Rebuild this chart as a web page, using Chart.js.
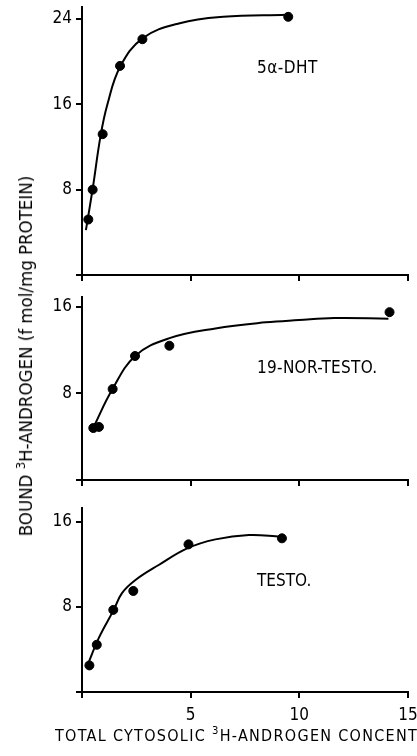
<!DOCTYPE html>
<html>
<head>
<meta charset="utf-8">
<script src="https://cdn.jsdelivr.net/npm/chart.js@4/dist/chart.umd.min.js"></script>
<style>
  html, body { margin: 0; padding: 0; background: #fff; }
  body { width: 417px; height: 756px; position: relative; overflow: hidden; }
  .panel { position: absolute; left: 0; width: 417px; }
  .txt { position: absolute; font-family: 'DejaVu Sans Condensed', 'DejaVu Sans', sans-serif; color: #000; white-space: nowrap; line-height: 16px; }
  sup { font-size: 70%; vertical-align: 7px; line-height: 0; }
</style>
</head>
<body>
<div class="panel" style="top:0;height:285px"><canvas id="c1"></canvas></div>
<div class="panel" style="top:287px;height:203px"><canvas id="c2"></canvas></div>
<div class="panel" style="top:498px;height:258px"><canvas id="c3"></canvas></div>

<div class="txt" style="left:257px;top:59px;font-size:17px;letter-spacing:0.5px">5α-DHT</div>
<div class="txt" style="left:257px;top:359px;font-size:17px;letter-spacing:0.3px">19-NOR-TESTO.</div>
<div class="txt" style="left:257px;top:572px;font-size:17px">TESTO.</div>
<div class="txt" id="ylab" style="left:26px;top:356px;font-size:18.5px;transform:translate(-50%,-50%) rotate(-90deg)">BOUND <sup>3</sup>H-ANDROGEN (f mol/mg PROTEIN)</div>
<div class="txt" style="left:55px;top:728px;font-size:16px;letter-spacing:1.3px">TOTAL CYTOSOLIC <sup>3</sup>H-ANDROGEN CONCENTRATION</div>

<script>
// values (x: total cytosolic conc., y: bound fmol/mg protein)
const xTicks = [0, 5, 10, 15];

const dhtX = [0.29, 0.49, 0.95, 1.75, 2.78, 9.49];
const dhtY = [5.2, 8.0, 13.2, 19.6, 22.1, 24.2];
const dhtCurveX = [0.18, 0.5, 0.85, 1.17, 1.75, 2.8, 4.5, 6.5, 9.4];
const dhtCurveY = [4.2, 8.2, 13.0, 16.0, 19.5, 22.2, 23.6, 24.2, 24.4];
const dhtTicks = [0, 8, 16, 24];

const norX = [0.52, 0.78, 1.41, 2.44, 4.02, 14.15];
const norY = [4.8, 4.9, 8.4, 11.45, 12.4, 15.5];
const norCurveX = [0.54, 1.38, 2.46, 3.99, 6.14, 8.45, 9.98, 11.6, 14.1];
const norCurveY = [4.92, 8.31, 11.48, 13.08, 14.0, 14.56, 14.77, 14.95, 14.9];
const norTicks = [0, 8, 16];

const testoX = [0.34, 0.68, 1.44, 2.36, 4.9, 9.2];
const testoY = [2.5, 4.44, 7.72, 9.5, 13.88, 14.45];
const testoCurveX = [0.25, 0.77, 1.46, 1.84, 2.46, 3.53, 4.84, 6.14, 7.68, 9.14];
const testoCurveY = [2.5, 5.07, 7.72, 9.3, 10.53, 11.94, 13.5, 14.35, 14.76, 14.6];
const testoTicks = [0, 8, 16];

Chart.defaults.font.family = "'DejaVu Sans Condensed', 'DejaVu Sans', sans-serif";
Chart.defaults.font.size = 17;
Chart.defaults.color = '#000';

function pts(xs, ys) {
    return xs.map((x, i) => ({ x: x, y: ys[i] }));
}

function makePanel(id, opts) {
    const ctx = document.getElementById(id).getContext('2d');
    return new Chart(ctx, {
        type: 'scatter',
        data: {
            datasets: [{
                data: pts(opts.curveX, opts.curveY),
                showLine: true,
                borderColor: '#000',
                borderWidth: 2,
                pointRadius: 0,
                tension: 0.4
            }, {
                data: pts(opts.x, opts.y),
                backgroundColor: '#000',
                borderColor: '#000',
                pointRadius: 4.5
            }]
        },
        options: {
            animation: false,
            responsive: true,
            maintainAspectRatio: false,
            layout: { padding: { top: opts.top, right: 9, left: 0, bottom: 0 } },
            plugins: { legend: { display: false }, tooltip: { enabled: false } },
            scales: {
                x: {
                    type: 'linear',
                    min: 0,
                    max: 15,
                    afterBuildTicks: s => { s.ticks = xTicks.map(v => ({ value: v })); },
                    afterFit: s => { s.height = opts.xHeight; s.paddingLeft = 0; s.paddingRight = 0; },
                    ticks: {
                        display: opts.xLabels,
                        padding: 7,
                        callback: v => (v === 0 ? '' : v)
                    },
                    grid: { drawOnChartArea: false, tickLength: 6, color: '#000', lineWidth: 2 },
                    border: { color: '#000', width: 2 }
                },
                y: {
                    min: 0,
                    max: opts.yMax,
                    afterBuildTicks: s => { s.ticks = opts.ticks.map(v => ({ value: v })); },
                    afterFit: s => { s.width = 82; s.paddingTop = 0; s.paddingBottom = 0; },
                    ticks: {
                        padding: 4,
                        callback: v => (v === 0 ? '' : v)
                    },
                    grid: { drawOnChartArea: false, tickLength: 6, color: '#000', lineWidth: 2 },
                    border: { color: '#000', width: 2 }
                }
            }
        }
    });
}

makePanel('c1', { x: dhtX, y: dhtY, curveX: dhtCurveX, curveY: dhtCurveY, ticks: dhtTicks, yMax: 25.12, top: 7, xHeight: 10, xLabels: false });
makePanel('c2', { x: norX, y: norY, curveX: norCurveX, curveY: norCurveY, ticks: norTicks, yMax: 16.9, top: 10, xHeight: 10, xLabels: false });
makePanel('c3', { x: testoX, y: testoY, curveX: testoCurveX, curveY: testoCurveY, ticks: testoTicks, yMax: 17.3, top: 10, xHeight: 64, xLabels: true });
</script>
</body>
</html>
